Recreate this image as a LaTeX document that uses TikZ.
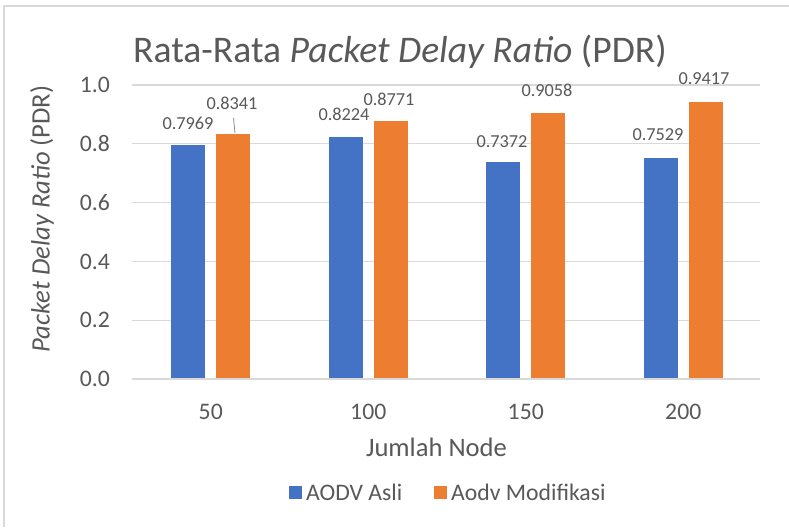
\documentclass[tikz,border=0pt]{standalone}
\usepackage{fontspec}
\setmainfont{Carlito}
\definecolor{txt}{HTML}{595959}
\definecolor{gridc}{HTML}{D9D9D9}
\definecolor{bblue}{HTML}{4472C4}
\definecolor{borange}{HTML}{ED7D31}
\begin{document}
\begin{tikzpicture}[x=1pt,y=-1pt,
  ticklab/.style={text=txt,font=\fontsize{23.7}{28}\selectfont,inner sep=0},
  dlab/.style={text=txt,font=\fontsize{18.3}{22}\selectfont,inner sep=0},
  axtitle/.style={text=txt,font=\fontsize{26.6}{32}\selectfont,inner sep=0},
  gridline/.style={draw=gridc,line width=1.3pt},
  blueBar/.style={fill=bblue},
  orangeBar/.style={fill=borange}]
\useasboundingbox[fill=white] (0,0) rectangle (789,527);
\draw[gridc,line width=1.5pt] (4,527) -- (4,6) -- (789,6);
% gridlines and tick labels
\foreach \v/\t in {0/0.0,0.2/0.2,0.4/0.4,0.6/0.6,0.8/0.8,1/1.0}{
  \draw[gridline] (132,{379-294*\v}) -- (760,{379-294*\v});
  \node[ticklab,anchor=east] (tick\t) at (110,{379-294*\v}) {\t};
}
% bars
\foreach \i/\a/\b/\n in {0/0.7969/0.8341/50,1/0.8224/0.8771/100,2/0.7372/0.9058/150,3/0.7529/0.9417/200}{
  \pgfmathsetmacro\c{210.75+157.5*\i}
  \fill[blueBar] ({\c-39.5},379) rectangle ({\c-5.5},{379-294*\a});
  \fill[orangeBar] ({\c+5.5},379) rectangle ({\c+39.5},{379-294*\b});
  \node[ticklab] (cat\n) at (\c,412) {\n};
}
\draw[gridline] (132,379) -- (760,379);
% data labels
\node[dlab] (d1a) at (188,123) {0.7969};
\node[dlab] (d1b) at (232,103) {0.8341};
\coordinate (lead1) at (235,133);
\draw[txt!70,line width=0.8pt] (233.5,118) -- (lead1);
\node[dlab] (d2a) at (344,114) {0.8224};
\node[dlab] (d2b) at (389,99) {0.8771};
\node[dlab] (d3a) at (502,142) {0.7372};
\node[dlab] (d3b) at (547,90) {0.9058};
\node[dlab] (d4a) at (658,135) {0.7529};
\node[dlab] (d4b) at (704,79) {0.9417};
% titles
\node[anchor=base,text=txt,font=\fontsize{37.6}{44}\selectfont,inner sep=0] (title) at (400,63) {Rata-Rata \textit{Packet Delay Ratio} (PDR)};
\node[axtitle,rotate=90] (ytitle) at (42,219) {\textit{Packet Delay Ratio} (PDR)};
\node[axtitle] (xtitle) at (436.5,447) {Jumlah Node};
% legend
\fill[blueBar] (288.5,485.5) rectangle (301.5,498.5);
\node[ticklab,anchor=west] (leg1) at (306,492) {AODV Asli};
\fill[orangeBar] (433.5,485.5) rectangle (446.5,498.5);
\node[ticklab,anchor=west] (leg2) at (451,492) {Aodv Modifikasi};
\end{tikzpicture}
\end{document}
